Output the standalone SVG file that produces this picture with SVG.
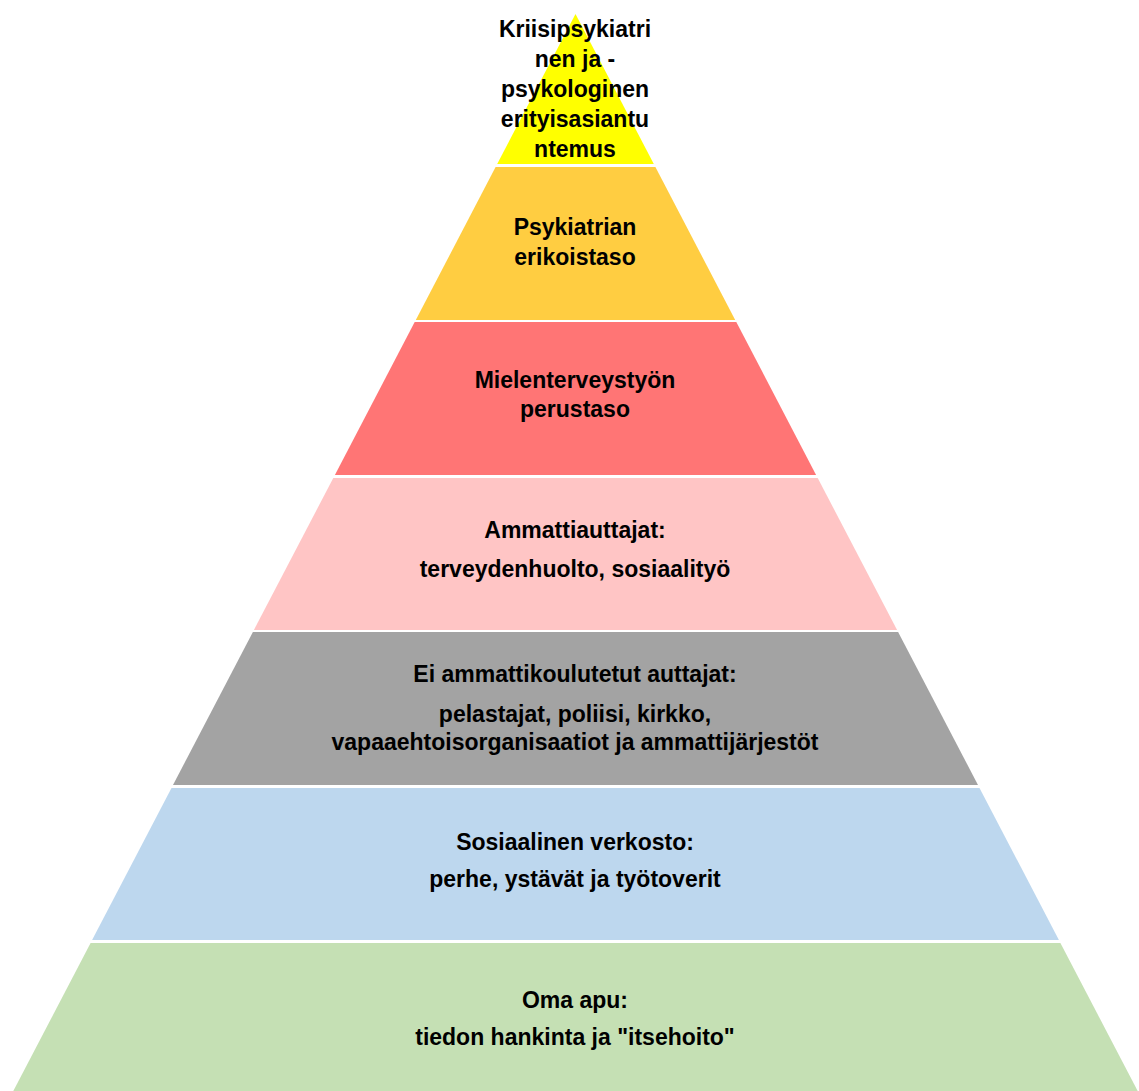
<svg xmlns="http://www.w3.org/2000/svg" width="1139" height="1091" viewBox="0 0 1139 1091">
<style>
text{font-family:"Liberation Sans",Arial,sans-serif;font-weight:bold;font-size:23px;fill:#000;text-anchor:middle}
</style>
<rect width="1139" height="1091" fill="#fff"/>
<g id="layer1">
<polygon points="575.5,14 653.8,164 497.2,164" fill="#FFFF00"/>
<text x="575" y="37">Kriisipsykiatri</text>
<text x="575" y="67">nen ja -</text>
<text x="575" y="97">psykologinen</text>
<text x="575" y="127">erityisasiantu</text>
<text x="575" y="157">ntemus</text>
</g>
<g id="layer2">
<polygon points="495.6,167 655.4,167 735.2,320 415.8,320" fill="#FFCD41"/>
<text x="575" y="235">Psykiatrian</text>
<text x="575" y="265">erikoistaso</text>
</g>
<g id="layer3">
<polygon points="414.7,322 736.3,322 816.1,475 334.9,475" fill="#FF7575"/>
<text x="575" y="388">Mielenterveystyön</text>
<text x="575" y="417">perustaso</text>
</g>
<g id="layer4">
<polygon points="333.3,478 817.7,478 897.1,630 253.9,630" fill="#FFC5C5"/>
<text x="575" y="538">Ammattiauttajat:</text>
<text x="575" y="577">terveydenhuolto, sosiaalityö</text>
</g>
<g id="layer5">
<polygon points="252.9,632 898.1,632 978,785 173,785" fill="#A3A3A3"/>
<text x="575" y="682">Ei ammattikoulutetut auttajat:</text>
<text x="575" y="722">pelastajat, poliisi, kirkko,</text>
<text x="575" y="750">vapaaehtoisorganisaatiot ja ammattijärjestöt</text>
</g>
<g id="layer6">
<polygon points="171.5,788 979.5,788 1058.9,940 92.1,940" fill="#BDD7EE"/>
<text x="575" y="850">Sosiaalinen verkosto:</text>
<text x="575" y="887">perhe, ystävät ja työtoverit</text>
</g>
<g id="layer7">
<polygon points="90.6,943 1060.4,943 1137.7,1091 13.3,1091" fill="#C5E0B4"/>
<text x="575" y="1008">Oma apu:</text>
<text x="575" y="1045">tiedon hankinta ja "itsehoito"</text>
</g>
<g id="connectors"/>
</svg>
